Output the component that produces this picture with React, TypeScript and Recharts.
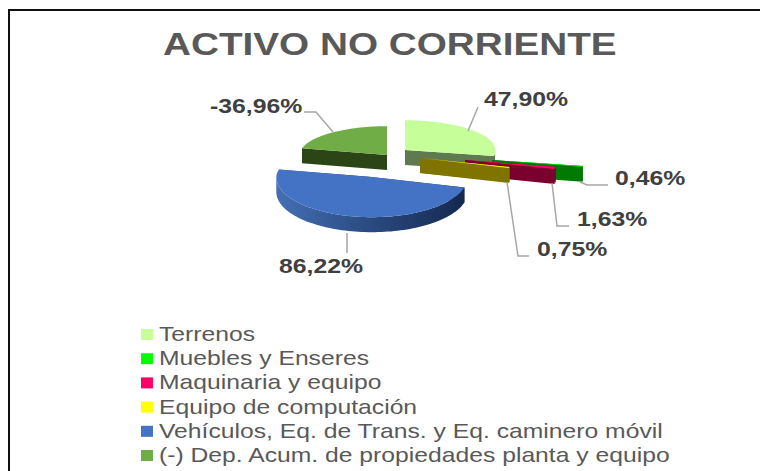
import React from 'react';
import { PieChart, Pie, Legend } from 'recharts';

const categories = [
    'Terrenos',
    'Muebles y Enseres',
    'Maquinaria y equipo',
    'Equipo de computación',
    'Vehículos, Eq. de Trans. y Eq. caminero móvil',
    '(-) Dep. Acum. de propiedades planta y equipo',
];
const percents = [47.9, 0.46, 1.63, 0.75, 86.22, -36.96];

const topColors = ['#c6ff9a', '#00ff00', '#ff0066', '#ffff00', '#4472c4', '#70ad47'];
const sideColors = ['#5f7a4e', '#007a00', '#7a002e', '#7f7400', 'url(#blueWall)', '#2c4517'];

// how far each slice is pulled out of the pie, [dx, dy] in px
const explode = [[10, -5], [97, 5], [70, 5], [25, 3], [-23, 22], [-8, 0]];
const radiusScale = [0.98, 1, 1, 1, 1.04, 0.95];

// leader line and label anchor for each slice
const leaders = [
    [[468, 131], [478, 107]],
    [[580, 182], [587, 185], [608, 185]],
    [[552, 183], [557, 226], [569, 226]],
    [[507, 182], [518, 256], [529, 256]],
    [[347, 233], [347, 253]],
    [[333, 132], [316, 112], [304, 112]],
];
const labelAnchors = [[484, 106], [615, 185], [577, 226], [537, 256], [279, 273], [210, 113]];

const data = categories.map((name, i) => ({
    name,
    percent: percents[i],
    size: Math.abs(percents[i]),
    fill: topColors[i],
}));

const BACK_RATIO = 0.33;
const FRONT_RATIO = 0.42;
const DEPTH = 15;
const STRETCH = 1.21;

const project = (cx: number, cy: number, r: number, deg: number) => {
    const a = (deg * Math.PI) / 180;
    const s = Math.sin(a);
    return [cx + r * Math.cos(a), cy - r * s * (s > 0 ? BACK_RATIO : FRONT_RATIO)];
};

const toPath = (pts: number[][]) => 'M' + pts.map((p) => `${p[0].toFixed(1)},${p[1].toFixed(1)}`).join('L') + 'Z';
const drop = (pts: number[][]) => pts.map((p) => [p[0], p[1] + DEPTH]);

const Slice3D = (props: any) => {
    const i = categories.indexOf(props.name);
    const cx = props.cx + explode[i][0];
    const cy = props.cy + explode[i][1];
    const r = props.outerRadius * radiusScale[i];
    const steps = Math.max(2, Math.ceil(Math.abs(props.endAngle - props.startAngle) / 2));
    const arc: number[][] = [];
    const front: number[][] = [];
    for (let k = 0; k <= steps; k++) {
        const deg = props.startAngle + ((props.endAngle - props.startAngle) * k) / steps;
        const p = project(cx, cy, r, deg);
        arc.push(p);
        if (Math.sin((deg * Math.PI) / 180) <= 0) front.push(p);
    }
    const apex = [cx, cy];
    const first = arc[0];
    const last = arc[arc.length - 1];
    return (
        <g>
            <path d={toPath([apex, first, ...drop([first, apex])])} fill={sideColors[i]} />
            <path d={toPath([apex, last, ...drop([last, apex])])} fill={sideColors[i]} />
            {front.length > 1 && (
                <path d={toPath([...front, ...drop(front).reverse()])} fill={sideColors[i]} />
            )}
            <path d={toPath([apex, ...arc])} fill={topColors[i]} />
        </g>
    );
};

const renderLabel = (props: any) => {
    const i = categories.indexOf(props.name);
    const [x, y] = labelAnchors[i];
    return (
        <g key={categories[i]}>
            <polyline points={leaders[i].join(' ')} fill="none" stroke="#a6a6a6" strokeWidth={1.5} />
            <text
                transform={`translate(${x},${y}) scale(${STRETCH},1)`}
                fontFamily="Liberation Sans"
                fontWeight="bold"
                fontSize={20.5}
                fill="#404040"
            >
                {percents[i].toFixed(2).replace('.', ',')}%
            </text>
        </g>
    );
};

const LegendList = ({ payload }: any) => (
    <svg width={560} height={150} style={{ display: 'block' }}>
        {(payload || []).map((entry: any, i: number) => (
            <g key={entry.value} transform={`translate(0,${i * 24.2})`}>
                <rect x={0} y={7} width={12} height={11} fill={entry.color} />
                <text
                    transform={`translate(18,19) scale(1.235,1)`}
                    fontFamily="Liberation Sans"
                    fontSize={20}
                    fill="#595959"
                >
                    {entry.value}
                </text>
            </g>
        ))}
    </svg>
);

export default function App() {
    return (
        <div style={{ position: 'absolute', left: 0, top: 0, width: 760, height: 471, overflow: 'hidden', background: '#fff' }}>
            <div style={{ position: 'absolute', left: 8, top: 9, right: 0, bottom: 0, borderLeft: '2px solid #111', borderTop: '2px solid #111' }} />
            <PieChart width={760} height={471} margin={{ top: 0, right: 0, bottom: 0, left: 0 }} style={{ position: 'absolute', left: 0, top: 0 }}>
                <defs>
                    <linearGradient id="blueWall" x1="0" y1="0" x2="1" y2="0">
                        <stop offset="0%" stopColor="#4470b4" />
                        <stop offset="50%" stopColor="#2a4a80" />
                        <stop offset="100%" stopColor="#15294f" />
                    </linearGradient>
                </defs>
                <text
                    transform={`translate(163,55) scale(${STRETCH},1)`}
                    fontFamily="Liberation Sans"
                    fontWeight="bold"
                    fontSize={32}
                    fill="#595959"
                >
                    ACTIVO NO CORRIENTE
                </text>
                <Pie
                    data={data}
                    dataKey="size"
                    nameKey="name"
                    cx={395}
                    cy={155}
                    outerRadius={92}
                    startAngle={90}
                    endAngle={-270}
                    stroke="none"
                    shape={Slice3D}
                    label={renderLabel}
                    labelLine={false}
                    isAnimationActive={false}
                />
                <Legend
                    content={<LegendList />}
                    itemSorter={null}
                    wrapperStyle={{ position: 'absolute', left: 141, top: 322, width: 560, bottom: 'auto', right: 'auto' }}
                />
            </PieChart>
        </div>
    );
}
